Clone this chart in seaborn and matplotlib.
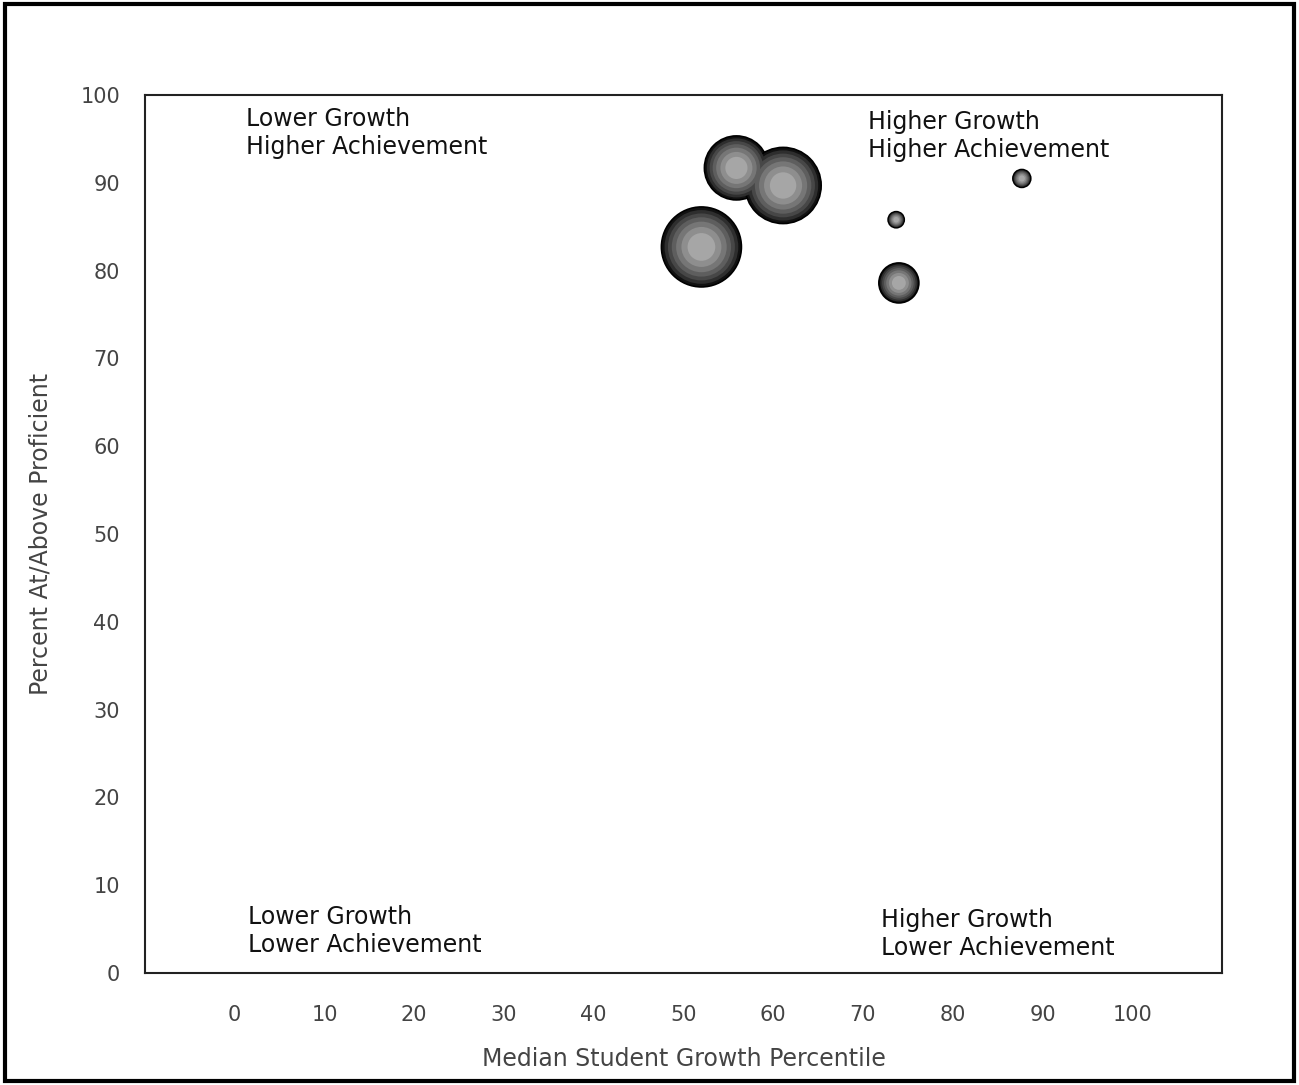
import numpy as np
import pandas as pd
import matplotlib
matplotlib.use("Agg")
import matplotlib.pyplot as plt
import seaborn as sns
from matplotlib.patches import Rectangle

# bubble data
growth = [55.9, 61.1, 52.0, 73.7, 74.0, 87.7]
proficient = [91.7, 89.7, 82.7, 85.8, 78.6, 90.5]
students = [205, 290, 320, 13, 80, 16]

QUADRANTS = [
    (1.3, 98.6, "Lower Growth\nHigher Achievement"),
    (70.6, 98.3, "Higher Growth\nHigher Achievement"),
    (1.5, 7.7, "Lower Growth\nLower Achievement"),
    (72.0, 7.4, "Higher Growth\nLower Achievement"),
]
XTICKS = list(range(0, 101, 10))
YTICKS = list(range(0, 101, 10))

df = pd.DataFrame({"growth": growth, "proficient": proficient, "students": students})

sns.set_style("white")
plt.rcParams["font.family"] = ["DejaVu Sans"]

fig = plt.figure(figsize=(12.99, 10.85), dpi=100)
ax = fig.add_axes([0.1116, 0.1032, 0.8291, 0.8092])

smax = (2 * 40 * 0.72) ** 2
# layered bubbles to mimic shaded spheres
layers = [(1.0, "#111111"), (0.85, "#2e2e2e"), (0.7, "#474747"),
          (0.55, "#5e5e5e"), (0.4, "#767676"), (0.25, "#8e8e8e"), (0.12, "#a6a6a6")]
for frac, col in layers:
    sns.scatterplot(
        data=df, x="growth", y="proficient", size="students",
        sizes=(0, smax * frac), size_norm=(0, 320),
        color=col, edgecolor="black" if frac == 1.0 else "none",
        linewidth=1.2 if frac == 1.0 else 0, legend=False, ax=ax, zorder=3,
    )

for x, y, txt in QUADRANTS:
    ax.text(x, y, txt, fontsize=17, va="top", ha="left", color="#111111",
            linespacing=1.2)

ax.set_xlim(-10, 110)
ax.set_ylim(0, 100)
ax.set_xticks(XTICKS)
ax.set_yticks(YTICKS)
ax.tick_params(axis="both", which="major", direction="out", length=6, width=1,
               labelsize=15, labelcolor="#444444", color="#333333", pad=12)
ax.tick_params(axis="x", pad=17)
for sp in ax.spines.values():
    sp.set_color("#222222")
    sp.set_linewidth(1.5)
ax.set_xlabel("Median Student Growth Percentile", fontsize=17, color="#444444", labelpad=16)
ax.set_ylabel("Percent At/Above Proficient", fontsize=17, color="#444444", labelpad=20)

fig.add_artist(Rectangle((0.004, 0.004), 0.992, 0.992, transform=fig.transFigure,
                         fill=False, edgecolor="black", linewidth=3))

fig.savefig("out.png", dpi=100)
plt.close()
